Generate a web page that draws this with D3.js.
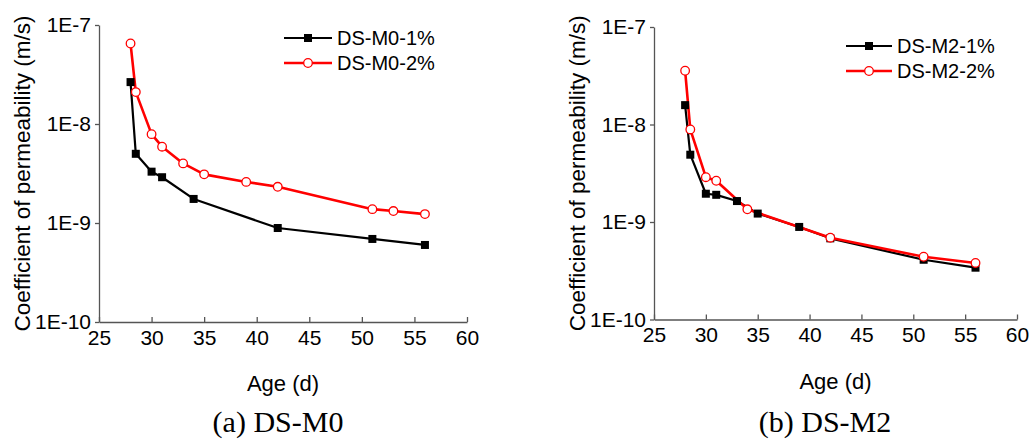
<!DOCTYPE html>
<html>
<head>
<meta charset="utf-8">
<script src="https://cdn.jsdelivr.net/npm/d3@7"></script>
<style>
  body { margin: 0; background: #fff; }
  svg { display: block; }
  text { font-family: "Liberation Sans", Arial, sans-serif; fill: #000; }
</style>
</head>
<body>
<svg id="chart" width="1032" height="439"></svg>
<script>
// ---- data ----
const ageM0_1 = [28, 28.5, 30, 31, 34, 42, 51, 56];
const valM0_1 = [2.65e-8, 5.0e-9, 3.3e-9, 2.9e-9, 1.75e-9, 8.9e-10, 6.9e-10, 6.0e-10];
const ageM0_2 = [28, 28.5, 30, 31, 33, 35, 39, 42, 51, 53, 56];
const valM0_2 = [6.5e-8, 2.1e-8, 7.9e-9, 5.9e-9, 4.0e-9, 3.1e-9, 2.6e-9, 2.32e-9, 1.38e-9, 1.32e-9, 1.23e-9];
const ageM2_1 = [28, 28.5, 30, 31, 33, 35, 39, 42, 51, 56];
const valM2_1 = [1.58e-8, 4.9e-9, 1.95e-9, 1.9e-9, 1.64e-9, 1.22e-9, 8.9e-10, 6.8e-10, 4.1e-10, 3.4e-10];
const ageM2_2 = [28, 28.5, 30, 31, 34, 42, 51, 56];
const valM2_2 = [3.56e-8, 8.9e-9, 2.88e-9, 2.65e-9, 1.35e-9, 6.9e-10, 4.4e-10, 3.8e-10];
const xTicks = [25, 30, 35, 40, 45, 50, 55, 60];
const yTicks = [1e-10, 1e-9, 1e-8, 1e-7];
const yTickLabels = ["1E-10", "1E-9", "1E-8", "1E-7"];
const seriesNamesA = ["DS-M0-1%", "DS-M0-2%"];
const seriesNamesB = ["DS-M2-1%", "DS-M2-2%"];
const captions = ["(a) DS-M0", "(b) DS-M2"];
const xTitle = "Age (d)";
const yTitle = "Coefficient of permeability (m/s)";

const svg = d3.select("#chart");

function panel(cfg) {
  const g = svg.append("g");
  const x = d3.scaleLinear().domain([25, 60]).range([cfg.left, cfg.right]);
  const y = d3.scaleLog().domain([1e-10, 1e-7]).range([cfg.bottom, cfg.top]);
  const axisColor = "#555";

  // x axis (ticks inward)
  const xa = g.append("g").attr("transform", `translate(0,${cfg.bottom})`)
    .call(d3.axisBottom(x).tickValues(xTicks).tickSize(-5).tickSizeOuter(0).tickPadding(8));
  xa.select(".domain").attr("stroke", axisColor).attr("stroke-width", 1.3);
  xa.selectAll(".tick line").attr("stroke", axisColor).attr("stroke-width", 1.3);
  xa.selectAll(".tick text").attr("font-size", 21).attr("font-family", "Liberation Sans, Arial, sans-serif")
    .attr("dy", "0.95em").attr("y", 3);

  // y axis (ticks outward)
  const ya = g.append("g").attr("transform", `translate(${cfg.left},0)`)
    .call(d3.axisLeft(y).tickValues(yTicks).tickFormat((d, i) => yTickLabels[i]).tickSize(4).tickSizeOuter(0).tickPadding(4));
  ya.select(".domain").attr("stroke", axisColor).attr("stroke-width", 1.3);
  ya.selectAll(".tick line").attr("stroke", axisColor).attr("stroke-width", 1.3);
  ya.selectAll(".tick text").attr("font-size", 21).attr("font-family", "Liberation Sans, Arial, sans-serif");

  // axis titles
  g.append("text").attr("x", (cfg.left + cfg.right) / 2).attr("y", cfg.bottom + 69)
    .attr("text-anchor", "middle").attr("font-size", 22).text(xTitle);
  g.append("text").attr("transform", `translate(${cfg.ytx},${(cfg.top + cfg.bottom) / 2}) rotate(-90)`)
    .attr("text-anchor", "middle").attr("font-size", 22.5).text(yTitle);

  // caption
  g.append("text").attr("x", cfg.capX).attr("y", 432)
    .attr("text-anchor", "middle").attr("font-size", 30)
    .style("font-family", "'Liberation Serif', 'Times New Roman', serif").text(cfg.caption);

  const line = d3.line().x(d => x(d[0])).y(d => y(d[1]));

  const s1 = cfg.a1.map((a, i) => [a, cfg.v1[i]]);
  const s2 = cfg.a2.map((a, i) => [a, cfg.v2[i]]);

  // black series
  g.append("path").datum(s1).attr("d", line).attr("fill", "none")
    .attr("stroke", "#000").attr("stroke-width", 2.2).attr("stroke-linejoin", "round");
  // red series
  g.append("path").datum(s2).attr("d", line).attr("fill", "none")
    .attr("stroke", "#ff0000").attr("stroke-width", 2.6).attr("stroke-linejoin", "round");

  const sq = 8;
  g.selectAll(".sq").data(s1).enter().append("rect")
    .attr("x", d => x(d[0]) - sq / 2).attr("y", d => y(d[1]) - sq / 2)
    .attr("width", sq).attr("height", sq).attr("fill", "#000");
  g.selectAll(".ci").data(s2).enter().append("circle")
    .attr("cx", d => x(d[0])).attr("cy", d => y(d[1])).attr("r", 4.3)
    .attr("fill", "#fff").attr("stroke", "#ff0000").attr("stroke-width", 1.3);

  // legend
  const L = cfg.legend;
  const lg = g.append("g");
  lg.append("line").attr("x1", L.x0).attr("x2", L.x1).attr("y1", L.y).attr("y2", L.y)
    .attr("stroke", "#000").attr("stroke-width", 2.2);
  lg.append("rect").attr("x", (L.x0 + L.x1) / 2 - sq / 2).attr("y", L.y - sq / 2)
    .attr("width", sq).attr("height", sq).attr("fill", "#000");
  lg.append("text").attr("x", L.x1 + 5).attr("y", L.y).attr("dy", "0.36em")
    .attr("font-size", 20).text(cfg.names[0]);
  lg.append("line").attr("x1", L.x0).attr("x2", L.x1).attr("y1", L.y + L.dy).attr("y2", L.y + L.dy)
    .attr("stroke", "#ff0000").attr("stroke-width", 2.6);
  lg.append("circle").attr("cx", (L.x0 + L.x1) / 2).attr("cy", L.y + L.dy).attr("r", 4.3)
    .attr("fill", "#fff").attr("stroke", "#ff0000").attr("stroke-width", 1.3);
  lg.append("text").attr("x", L.x1 + 5).attr("y", L.y + L.dy).attr("dy", "0.36em")
    .attr("font-size", 20).text(cfg.names[1]);
}

panel({
  left: 99, right: 467, top: 25, bottom: 322, ytx: 30, capX: 278,
  a1: ageM0_1, v1: valM0_1, a2: ageM0_2, v2: valM0_2, names: seriesNamesA,
  caption: captions[0],
  legend: { x0: 284, x1: 332, y: 38, dy: 25 }
});
panel({
  left: 654, right: 1017, top: 27, bottom: 319.5, ytx: 585, capX: 825,
  a1: ageM2_1, v1: valM2_1, a2: ageM2_2, v2: valM2_2, names: seriesNamesB,
  caption: captions[1],
  legend: { x0: 846, x1: 892, y: 46, dy: 25 }
});
</script>
</body>
</html>
